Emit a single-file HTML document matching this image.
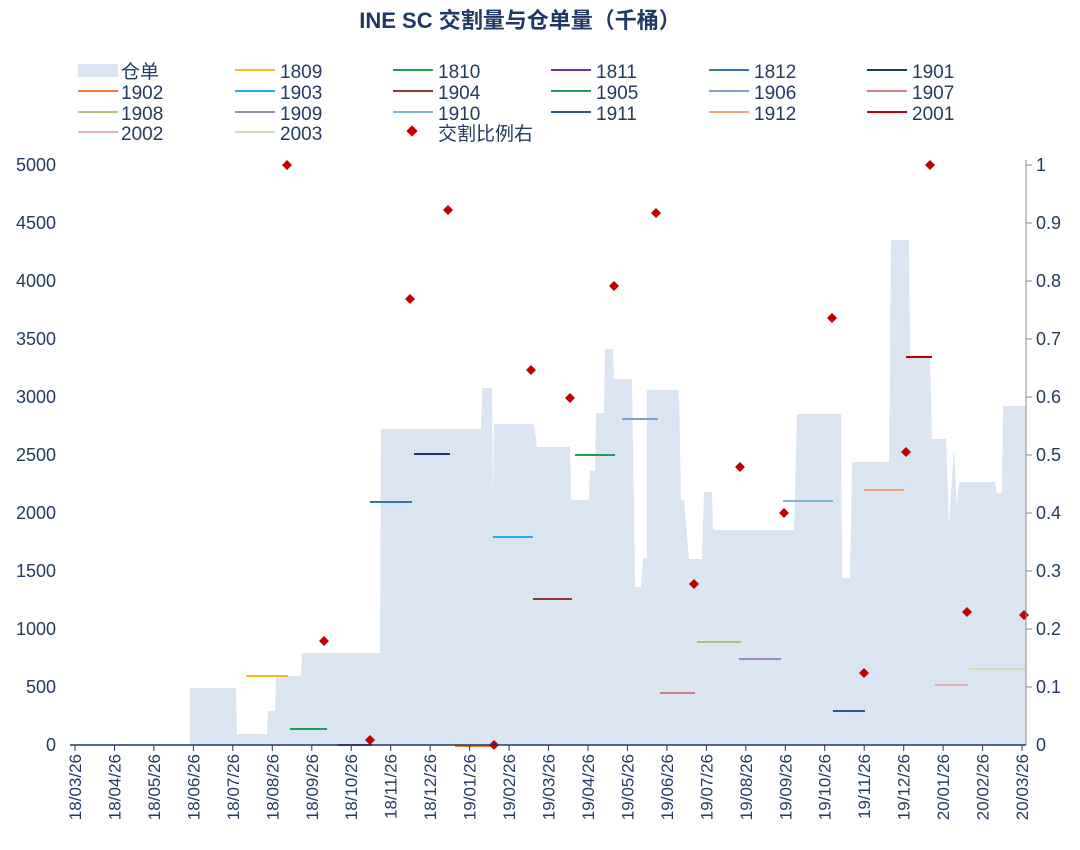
<!DOCTYPE html>
<html><head><meta charset="utf-8"><style>
body{margin:0;background:#fff;}
svg text{font-family:"Liberation Sans","Noto Sans CJK SC",sans-serif;}
</style></head><body>
<svg width="1080" height="845" xmlns="http://www.w3.org/2000/svg">
<text x="520" y="28" text-anchor="middle" font-size="22" font-weight="bold" fill="#1f3864">INE SC 交割量与仓单量（千桶）</text>
<g font-size="19" fill="#243b60">
<rect x="78" y="64" width="40" height="13" fill="#dbe4f1"/><text x="121" y="78">仓单</text>
<line x1="235" y1="70" x2="275" y2="70" stroke="#f5c211" stroke-width="2"/><text x="280" y="78">1809</text>
<line x1="393" y1="70" x2="433" y2="70" stroke="#1aa05a" stroke-width="2"/><text x="438" y="78">1810</text>
<line x1="551" y1="70" x2="591" y2="70" stroke="#7030a0" stroke-width="2"/><text x="596" y="78">1811</text>
<line x1="709" y1="70" x2="749" y2="70" stroke="#2e75b6" stroke-width="2"/><text x="754" y="78">1812</text>
<line x1="867" y1="70" x2="907" y2="70" stroke="#1f3864" stroke-width="2"/><text x="912" y="78">1901</text>
<line x1="78" y1="91" x2="118" y2="91" stroke="#ed7d31" stroke-width="2"/><text x="121" y="99">1902</text>
<line x1="235" y1="91" x2="275" y2="91" stroke="#1fb0ee" stroke-width="2"/><text x="280" y="99">1903</text>
<line x1="393" y1="91" x2="433" y2="91" stroke="#943634" stroke-width="2"/><text x="438" y="99">1904</text>
<line x1="551" y1="91" x2="591" y2="91" stroke="#1aa05a" stroke-width="2"/><text x="596" y="99">1905</text>
<line x1="709" y1="91" x2="749" y2="91" stroke="#7f9fcf" stroke-width="2"/><text x="754" y="99">1906</text>
<line x1="867" y1="91" x2="907" y2="91" stroke="#d08080" stroke-width="2"/><text x="912" y="99">1907</text>
<line x1="78" y1="112" x2="118" y2="112" stroke="#a9c47f" stroke-width="2"/><text x="121" y="120">1908</text>
<line x1="235" y1="112" x2="275" y2="112" stroke="#9b8bbd" stroke-width="2"/><text x="280" y="120">1909</text>
<line x1="393" y1="112" x2="433" y2="112" stroke="#7fb6d6" stroke-width="2"/><text x="438" y="120">1910</text>
<line x1="551" y1="112" x2="591" y2="112" stroke="#2f5597" stroke-width="2"/><text x="596" y="120">1911</text>
<line x1="709" y1="112" x2="749" y2="112" stroke="#f4a67a" stroke-width="2"/><text x="754" y="120">1912</text>
<line x1="867" y1="112" x2="907" y2="112" stroke="#c00000" stroke-width="2"/><text x="912" y="120">2001</text>
<line x1="78" y1="132" x2="118" y2="132" stroke="#e6b0b0" stroke-width="2"/><text x="121" y="140">2002</text>
<line x1="235" y1="132" x2="275" y2="132" stroke="#d0e0b0" stroke-width="2"/><text x="280" y="140">2003</text>
<rect x="408" y="127" width="8" height="8" fill="#c00000" transform="rotate(45 412 131)"/><text x="438" y="140">交割比例右</text>
</g>
<polygon fill="#dbe4f1" points="75,745 190,745 190,688 236,688 237,734 267,734 268,711 275,711 276,676 301,676 302,653 380,653 381,429 481,429 482,388 492,388 493,497 494,424 534,424 537,447 570,447 571,500 589,500 590,471 595,471 596,413 604,413 605,349 613,349 614,379 632,379 635,587 641,587 643,558 647,558 647,390 679,390 681,500 684,500 689,559 702,559 704,492 712,492 713,530 794,530 797,414 841,414 842,578 850,578 852,462 889,462 891,240 909,240 910,357 930,357 932,439 946,439 949,526 954,448 957,507 959,482 995,482 997,493 1002,493 1003,406 1026,406 1026,745"/>
<g stroke-width="2">
<line x1="246" y1="676" x2="288" y2="676" stroke="#f5c211"/>
<line x1="290" y1="729" x2="327" y2="729" stroke="#1aa05a"/>
<line x1="338" y1="745" x2="372" y2="745" stroke="#7030a0"/>
<line x1="370" y1="502" x2="412" y2="502" stroke="#2e75b6"/>
<line x1="414" y1="454" x2="450" y2="454" stroke="#1f3864"/>
<line x1="455" y1="746" x2="492" y2="746" stroke="#ed7d31"/>
<line x1="493" y1="537" x2="533" y2="537" stroke="#1fb0ee"/>
<line x1="533" y1="599" x2="572" y2="599" stroke="#943634"/>
<line x1="575" y1="455" x2="615" y2="455" stroke="#1aa05a"/>
<line x1="622" y1="419" x2="658" y2="419" stroke="#7f9fcf"/>
<line x1="660" y1="693" x2="695" y2="693" stroke="#d08080"/>
<line x1="697" y1="642" x2="741" y2="642" stroke="#a9c47f"/>
<line x1="739" y1="659" x2="781" y2="659" stroke="#9b8bbd"/>
<line x1="783" y1="501" x2="833" y2="501" stroke="#7fb6d6"/>
<line x1="833" y1="711" x2="865" y2="711" stroke="#2f5597"/>
<line x1="864" y1="490" x2="904" y2="490" stroke="#f4a67a"/>
<line x1="906" y1="357" x2="932" y2="357" stroke="#c00000"/>
<line x1="935" y1="685" x2="968" y2="685" stroke="#e6b0b0"/>
<line x1="969" y1="669" x2="1026" y2="669" stroke="#d0e0b0"/>
</g>
<g fill="#c00000">
<path d="M287,160l5,5l-5,5l-5,-5z"/><path d="M324,636l5,5l-5,5l-5,-5z"/><path d="M370,735l5,5l-5,5l-5,-5z"/>
<path d="M410,294l5,5l-5,5l-5,-5z"/><path d="M448,205l5,5l-5,5l-5,-5z"/><path d="M494,740l5,5l-5,5l-5,-5z"/>
<path d="M531,365l5,5l-5,5l-5,-5z"/><path d="M570,393l5,5l-5,5l-5,-5z"/><path d="M614,281l5,5l-5,5l-5,-5z"/>
<path d="M656,208l5,5l-5,5l-5,-5z"/><path d="M694,579l5,5l-5,5l-5,-5z"/><path d="M740,462l5,5l-5,5l-5,-5z"/>
<path d="M784,508l5,5l-5,5l-5,-5z"/><path d="M832,313l5,5l-5,5l-5,-5z"/><path d="M864,668l5,5l-5,5l-5,-5z"/>
<path d="M906,447l5,5l-5,5l-5,-5z"/><path d="M930,160l5,5l-5,5l-5,-5z"/><path d="M967,607l5,5l-5,5l-5,-5z"/>
<path d="M1024,610l5,5l-5,5l-5,-5z"/>
</g>
<line x1="1026" y1="160" x2="1026" y2="745" stroke="#888" stroke-width="1"/>
<g stroke="#888"><line x1="1026" y1="165" x2="1032" y2="165"/><line x1="1026" y1="223" x2="1032" y2="223"/><line x1="1026" y1="281" x2="1032" y2="281"/><line x1="1026" y1="339" x2="1032" y2="339"/><line x1="1026" y1="397" x2="1032" y2="397"/><line x1="1026" y1="455" x2="1032" y2="455"/><line x1="1026" y1="513" x2="1032" y2="513"/><line x1="1026" y1="571" x2="1032" y2="571"/><line x1="1026" y1="629" x2="1032" y2="629"/><line x1="1026" y1="687" x2="1032" y2="687"/></g>
<line x1="70" y1="745" x2="1026" y2="745" stroke="#1f3864" stroke-width="1.5"/>
<g font-size="18" fill="#243b60" text-anchor="end">
<text x="56" y="171">5000</text><text x="56" y="229">4500</text><text x="56" y="287">4000</text><text x="56" y="345">3500</text><text x="56" y="403">3000</text><text x="56" y="461">2500</text><text x="56" y="519">2000</text><text x="56" y="577">1500</text><text x="56" y="635">1000</text><text x="56" y="693">500</text><text x="56" y="751">0</text>
</g>
<g font-size="18" fill="#243b60">
<text x="1036" y="171">1</text><text x="1036" y="229">0.9</text><text x="1036" y="287">0.8</text><text x="1036" y="345">0.7</text><text x="1036" y="403">0.6</text><text x="1036" y="461">0.5</text><text x="1036" y="519">0.4</text><text x="1036" y="577">0.3</text><text x="1036" y="635">0.2</text><text x="1036" y="693">0.1</text><text x="1036" y="751">0</text>
</g>
<g stroke="#1f3864">
<line x1="75" y1="745" x2="75" y2="751"/><line x1="114.5" y1="745" x2="114.5" y2="751"/><line x1="153.9" y1="745" x2="153.9" y2="751"/><line x1="193.4" y1="745" x2="193.4" y2="751"/><line x1="232.8" y1="745" x2="232.8" y2="751"/><line x1="272.3" y1="745" x2="272.3" y2="751"/><line x1="311.8" y1="745" x2="311.8" y2="751"/><line x1="351.2" y1="745" x2="351.2" y2="751"/><line x1="390.7" y1="745" x2="390.7" y2="751"/><line x1="430.1" y1="745" x2="430.1" y2="751"/><line x1="469.6" y1="745" x2="469.6" y2="751"/><line x1="509.1" y1="745" x2="509.1" y2="751"/><line x1="548.5" y1="745" x2="548.5" y2="751"/><line x1="588" y1="745" x2="588" y2="751"/><line x1="627.4" y1="745" x2="627.4" y2="751"/><line x1="666.9" y1="745" x2="666.9" y2="751"/><line x1="706.4" y1="745" x2="706.4" y2="751"/><line x1="745.8" y1="745" x2="745.8" y2="751"/><line x1="785.3" y1="745" x2="785.3" y2="751"/><line x1="824.7" y1="745" x2="824.7" y2="751"/><line x1="864.2" y1="745" x2="864.2" y2="751"/><line x1="903.7" y1="745" x2="903.7" y2="751"/><line x1="943.1" y1="745" x2="943.1" y2="751"/><line x1="982.6" y1="745" x2="982.6" y2="751"/><line x1="1022" y1="745" x2="1022" y2="751"/>
</g>
<g font-size="17" fill="#243b60" text-anchor="end">
<text transform="translate(81,754) rotate(-90)">18/03/26</text>
<text transform="translate(120.5,754) rotate(-90)">18/04/26</text>
<text transform="translate(159.9,754) rotate(-90)">18/05/26</text>
<text transform="translate(199.4,754) rotate(-90)">18/06/26</text>
<text transform="translate(238.8,754) rotate(-90)">18/07/26</text>
<text transform="translate(278.3,754) rotate(-90)">18/08/26</text>
<text transform="translate(317.8,754) rotate(-90)">18/09/26</text>
<text transform="translate(357.2,754) rotate(-90)">18/10/26</text>
<text transform="translate(396.7,754) rotate(-90)">18/11/26</text>
<text transform="translate(436.1,754) rotate(-90)">18/12/26</text>
<text transform="translate(475.6,754) rotate(-90)">19/01/26</text>
<text transform="translate(515.1,754) rotate(-90)">19/02/26</text>
<text transform="translate(554.5,754) rotate(-90)">19/03/26</text>
<text transform="translate(594,754) rotate(-90)">19/04/26</text>
<text transform="translate(633.4,754) rotate(-90)">19/05/26</text>
<text transform="translate(672.9,754) rotate(-90)">19/06/26</text>
<text transform="translate(712.4,754) rotate(-90)">19/07/26</text>
<text transform="translate(751.8,754) rotate(-90)">19/08/26</text>
<text transform="translate(791.3,754) rotate(-90)">19/09/26</text>
<text transform="translate(830.7,754) rotate(-90)">19/10/26</text>
<text transform="translate(870.2,754) rotate(-90)">19/11/26</text>
<text transform="translate(909.7,754) rotate(-90)">19/12/26</text>
<text transform="translate(949.1,754) rotate(-90)">20/01/26</text>
<text transform="translate(988.6,754) rotate(-90)">20/02/26</text>
<text transform="translate(1028,754) rotate(-90)">20/03/26</text>
</g>
</svg>
</body></html>
